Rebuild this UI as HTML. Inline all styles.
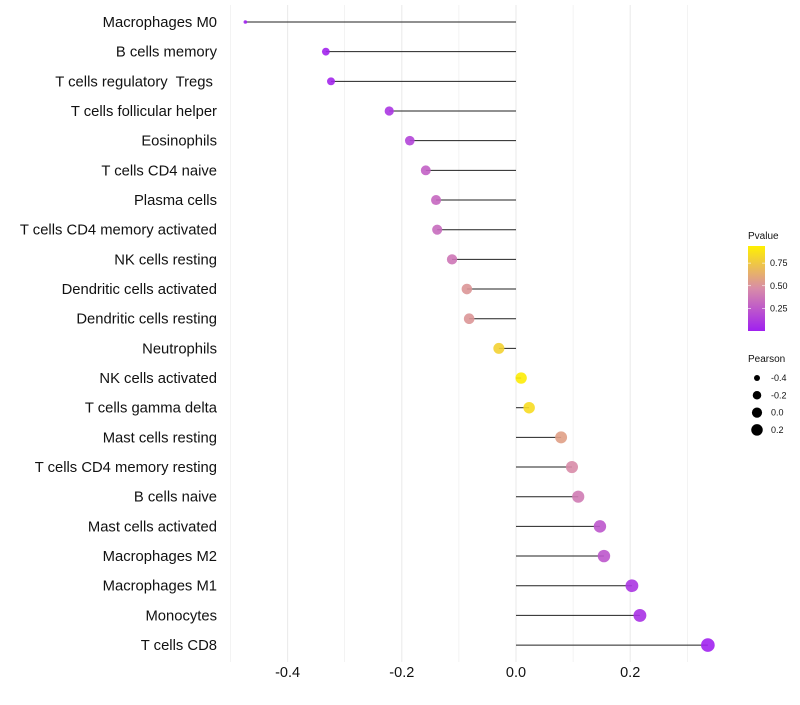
<!DOCTYPE html>
<html><head><meta charset="utf-8"><style>
body{margin:0;background:#fff;font-family:"Liberation Sans",sans-serif}
svg text{font-family:"Liberation Sans",sans-serif;white-space:pre}
</style></head><body>
<svg id="c" width="800" height="700"></svg>
<script>
const categories=["Macrophages M0","B cells memory","T cells regulatory  Tregs ","T cells follicular helper","Eosinophils","T cells CD4 naive","Plasma cells","T cells CD4 memory activated","NK cells resting","Dendritic cells activated","Dendritic cells resting","Neutrophils","NK cells activated","T cells gamma delta","Mast cells resting","T cells CD4 memory resting","B cells naive","Mast cells activated","Macrophages M2","Macrophages M1","Monocytes","T cells CD8"];
const pearson=[-0.474,-0.333,-0.324,-0.222,-0.186,-0.158,-0.140,-0.138,-0.112,-0.086,-0.082,-0.030,0.009,0.023,0.079,0.098,0.109,0.147,0.154,0.203,0.217,0.336];
const pvalue=[0.0,0.02,0.03,0.1,0.17,0.3,0.33,0.35,0.4,0.55,0.55,0.85,0.98,0.9,0.6,0.5,0.42,0.25,0.25,0.1,0.08,0.01];
const xTicks=[-0.4,-0.2,0.0,0.2];
const xMinor=[-0.5,-0.3,-0.1,0.1,0.3];
const pTicks=[0.25,0.5,0.75];
const sizeLegend=[-0.4,-0.2,0.0,0.2];
const NS="http://www.w3.org/2000/svg";
const svg=document.getElementById('c');
const X=v=>516+v*571;
const Y=i=>22+i*29.67;
const R=v=>1.8+Math.sqrt(Math.max(0,v+0.474))*5.6;
function lerp(a,b,t){return a.map((x,i)=>Math.round(x+(b[i]-x)*t));}
function col(p){const s=[[160,32,240],[216,140,168],[255,240,0]];const c=p<0.5?lerp(s[0],s[1],p/0.5):lerp(s[1],s[2],(p-0.5)/0.5);return `rgb(${c})`;}
function el(t,a,txt){const e=document.createElementNS(NS,t);for(const k in a)e.setAttribute(k,a[k]);if(txt!==undefined)e.textContent=txt;svg.appendChild(e);return e;}
xMinor.concat(xTicks).forEach(v=>{const g=el('line',{x1:X(v),x2:X(v),y1:5,y2:662,stroke:'#ebebeb','stroke-width':xTicks.includes(v)?1.1:0.6});

});
xTicks.forEach(v=>{const t=el('text',{x:X(v),y:677,'text-anchor':'middle','font-size':14.5,fill:'#111'},v.toFixed(1));

});
categories.forEach((c,i)=>{
const t=el('text',{x:217,y:Y(i)+5,'text-anchor':'end','font-size':14.8,fill:'#111'},c);


const l=el('line',{x1:X(0),x2:X(pearson[i]),y1:Y(i),y2:Y(i),stroke:'#222','stroke-width':1});


const d=el('circle',{cx:X(pearson[i]),cy:Y(i),r:R(pearson[i]),fill:col(pvalue[i]),'fill-opacity':0.9});


});
const lt=el('text',{x:748,y:239,'font-size':10,fill:'#111'},'Pvalue');


const defs=el('defs',{});
const lg=document.createElementNS(NS,'linearGradient');lg.setAttribute('id','g');lg.setAttribute('x1','0');lg.setAttribute('y1','1');lg.setAttribute('x2','0');lg.setAttribute('y2','0');defs.appendChild(lg);
[0,0.5,1].forEach(o=>{const s=document.createElementNS(NS,'stop');s.setAttribute('offset',o);s.setAttribute('stop-color',col(o));lg.appendChild(s);});
const bar=el('rect',{x:748,y:246,width:17,height:85,fill:'url(#g)'});


pTicks.forEach(p=>{const yy=331-p*90.5;el('line',{x1:748,x2:751,y1:yy,y2:yy,stroke:'#fff','stroke-width':0.6});el('line',{x1:762,x2:765,y1:yy,y2:yy,stroke:'#fff','stroke-width':0.6});
const t=el('text',{x:770,y:yy+3,'font-size':9,fill:'#111'},p.toFixed(2));

});
const st=el('text',{x:748,y:362,'font-size':10,fill:'#111'},'Pearson');


sizeLegend.forEach((v,i)=>{const y=378+i*17.3;
const c=el('circle',{cx:757,cy:y,r:R(v)*0.9,fill:'#000'});


const t=el('text',{x:771,y:y+3,'font-size':9,fill:'#111'},v.toFixed(1));

});
</script>
</body></html>
